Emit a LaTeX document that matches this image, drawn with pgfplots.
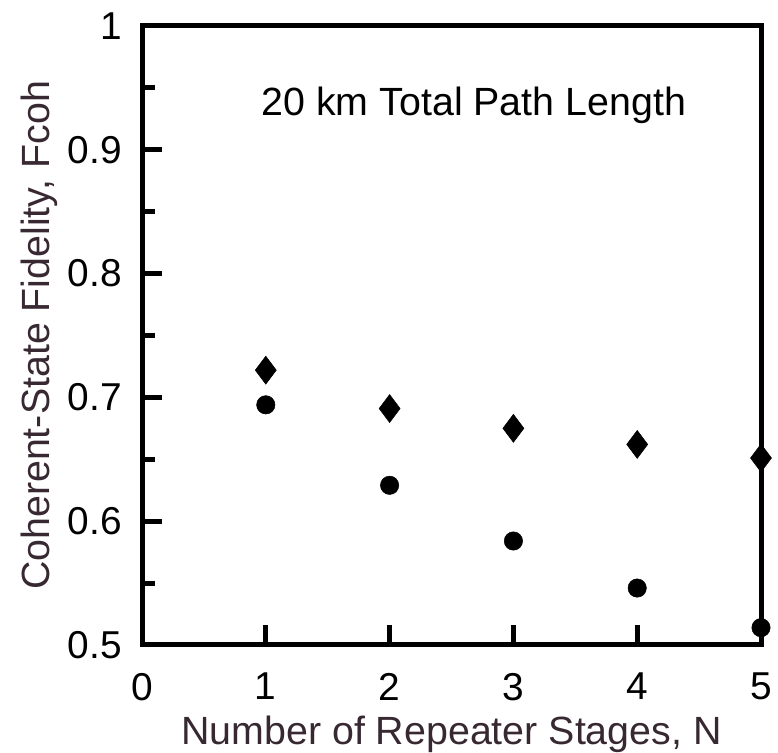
\documentclass[border=0pt]{standalone}
\usepackage{pgfplots}
\pgfplotsset{compat=1.18}
\usepackage{fontspec}
\setmainfont{Liberation Sans}
\definecolor{labcol}{RGB}{55,40,50}
\pgfplotstableread{
x y
1 0.722
2 0.691
3 0.675
4 0.662
5 0.651
}\diamonddata
\pgfplotstableread{
x y
1 0.694
2 0.629
3 0.584
4 0.546
5 0.514
}\circledata
\begin{document}
\begin{tikzpicture}
\begin{axis}[
  name=ax,
  scale only axis,
  width=619bp, height=619bp,
  xmin=0, xmax=5, ymin=0.5, ymax=1,
  xtick={0,1,2,3,4,5},
  ytick={0.5,0.6,0.7,0.8,0.9,1},
  minor ytick={0.55,0.65,0.75,0.85,0.95},
  tick pos=left,
  tick align=inside,
  major tick length=20bp,
  minor tick length=13bp,
  every tick/.style={black, line width=5bp},
  axis line style={line width=5bp, black},
  /pgf/number format/assume math mode=true,
  tick label style={font=\fontsize{39}{47}\selectfont, black},
  yticklabel style={anchor=east, inner sep=0pt, xshift=-20bp},
  xticklabel style={anchor=north, inner sep=0pt, yshift=-28bp},
  xlabel={Number of Repeater Stages, N},
  ylabel={Coherent-State Fidelity, Fcoh},
  label style={font=\fontsize{39.5}{47}\selectfont, text=labcol},
  xlabel style={anchor=base, at={(axis description cs:0.5,0)}, yshift=-99bp},
  ylabel style={anchor=base, at={(axis description cs:0,0.5)}, yshift=92bp},
  clip=false,
  axis on top=false,
]
\addplot[only marks, mark=diamond*, mark size=14bp, mark options={fill=black, draw=black, line width=0.5bp}] table[x=x,y=y] {\diamonddata};
\addplot[only marks, mark=*, mark size=9.2bp, mark options={fill=black, draw=black, line width=0.5bp}] table[x=x,y=y] {\circledata};
\node[anchor=base, font=\fontsize{39.5}{47}\selectfont, inner sep=0pt] at (axis cs:2.68,0.928) {20 km Total Path Length};
\end{axis}
\pgfresetboundingbox
\path[use as bounding box] ([xshift=-142bp,yshift=-108bp]ax.south west) rectangle ([xshift=17bp,yshift=26bp]ax.north east);
\end{tikzpicture}
\end{document}
